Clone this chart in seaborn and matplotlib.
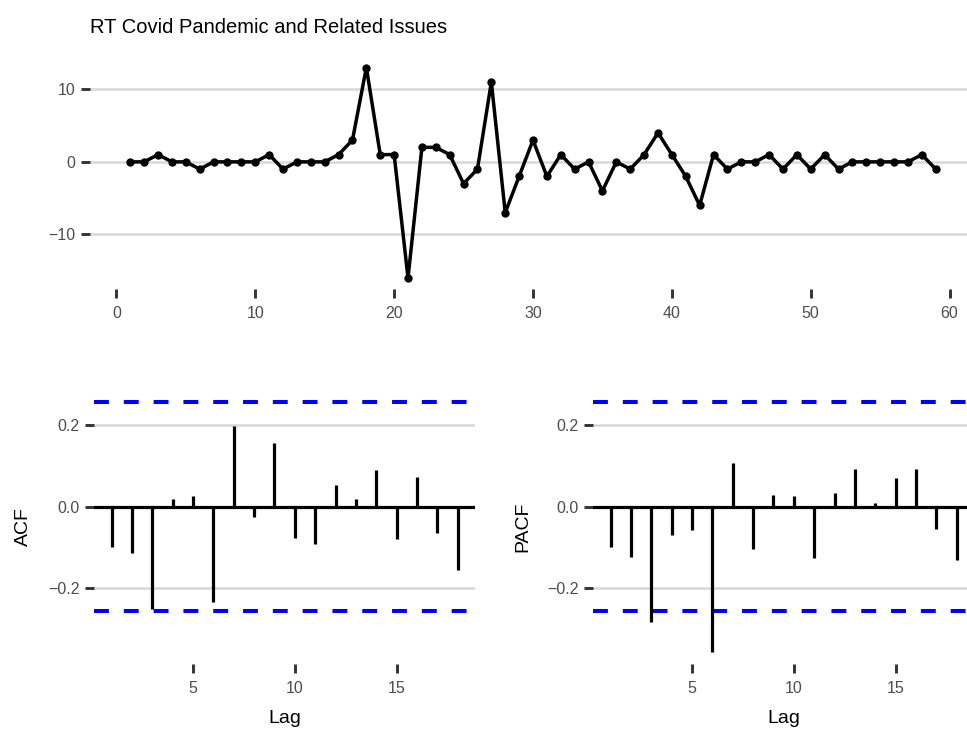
import numpy as np
import pandas as pd
import matplotlib
matplotlib.use("Agg")
import matplotlib.pyplot as plt
import seaborn as sns

# series values
t = list(range(1, 60))
rt = [0, 0, 1, 0, 0, -1, 0, 0, 0, 0, 1, -1, 0, 0, 0, 1, 3, 13, 1, 1,
      -16, 2, 2, 1, -3, -1, 11, -7, -2, 3, -2, 1, -1, 0, -4, 0, -1, 1, 4, 1,
      -2, -6, 1, -1, 0, 0, 1, -1, 1, -1, 1, -1, 0, 0, 0, 0, 0, 1, -1]

lags = list(range(1, 19))
acf_vals = [-0.098, -0.113, -0.251, 0.019, 0.027, -0.233, 0.198, -0.025, 0.156,
            -0.076, -0.091, 0.053, 0.018, 0.090, -0.079, 0.072, -0.064, -0.155]
pacf_vals = [-0.098, -0.124, -0.283, -0.070, -0.058, -0.355, 0.107, -0.104, 0.028,
             0.025, -0.127, 0.033, 0.093, 0.009, 0.070, 0.093, -0.055, -0.131]
ci = 1.96 / np.sqrt(len(rt))

sns.set_theme(style="white")
plt.rcParams["font.family"] = ["Liberation Sans", "DejaVu Sans"]

W, H = 967, 731
fig = plt.figure(figsize=(W / 100, H / 100), dpi=100)


def px_axes(l, r, top, bot):
    return fig.add_axes([l / W, 1 - bot / H, (r - l) / W, (bot - top) / H])


grid_col = "#DADADA"
tick_col = "#333333"
lab_col = "#4D4D4D"


def style(ax):
    sns.despine(ax=ax, left=True, bottom=True)
    ax.grid(False)
    ax.yaxis.grid(True, color=grid_col, linewidth=1.9)
    ax.set_axisbelow(True)
    ax.tick_params(axis="both", bottom=True, left=True, length=6.5, width=2.1,
                   color=tick_col, labelcolor=lab_col, labelsize=11.5,
                   direction="out")
    ax.tick_params(axis="x", pad=6)
    ax.tick_params(axis="y", pad=4)


# top: the series
ax0 = px_axes(90, 976, 57, 288.5)
df = pd.DataFrame({"t": t, "rt": rt})
sns.lineplot(data=df, x="t", y="rt", ax=ax0, color="black", linewidth=2.5,
             marker="o", markersize=6, markeredgewidth=0)
ax0.set_xlim(1 - 0.05 * 58, 59 + 0.05 * 58)
lo, hi = min(rt), max(rt)
ax0.set_ylim(lo - 0.05 * (hi - lo), hi + 0.05 * (hi - lo))
ax0.set_xticks([0, 10, 20, 30, 40, 50, 60])
ax0.set_yticks([-10, 0, 10])
ax0.set_xlabel("")
ax0.set_ylabel("")
style(ax0)
ax0.set_title("RT Covid Pandemic and Related Issues", loc="left", fontsize=14.5,
              color="black", pad=17)

# shared y limits for the correlograms
ylo = min(min(acf_vals), min(pacf_vals), -ci)
yhi = max(max(acf_vals), max(pacf_vals), ci)
span = yhi - ylo


def correlogram(ax, vals, name):
    cdf = pd.DataFrame({"lag": lags, "v": vals})
    ax.axhline(0, color="black", linewidth=2.3, zorder=2)
    ax.vlines(cdf["lag"], 0, cdf["v"], color="black", linewidth=2.3, zorder=3)
    for c in (ci, -ci):
        ax.axhline(c, color="blue", linewidth=2.9, linestyle=(0, (3.7, 3.7)), zorder=2)
    ax.set_xlim(1 - 0.05 * 17, 18 + 0.05 * 17)
    ax.set_ylim(ylo - 0.05 * span, yhi + 0.05 * span)
    ax.set_xticks([5, 10, 15])
    ax.set_yticks([-0.2, 0.0, 0.2])
    ax.set_yticklabels(["\u22120.2", "0.0", "0.2"])
    style(ax)
    ax.set_xlabel("Lag", fontsize=14, color="black", labelpad=9.5)
    ax.set_ylabel(name, fontsize=14, color="black", labelpad=11.5)


ax1 = px_axes(94.3, 475, 390, 664)
correlogram(ax1, acf_vals, "ACF")
ax2 = px_axes(593.3, 974, 390, 664)
correlogram(ax2, pacf_vals, "PACF")

fig.savefig("out.png", dpi=100)
